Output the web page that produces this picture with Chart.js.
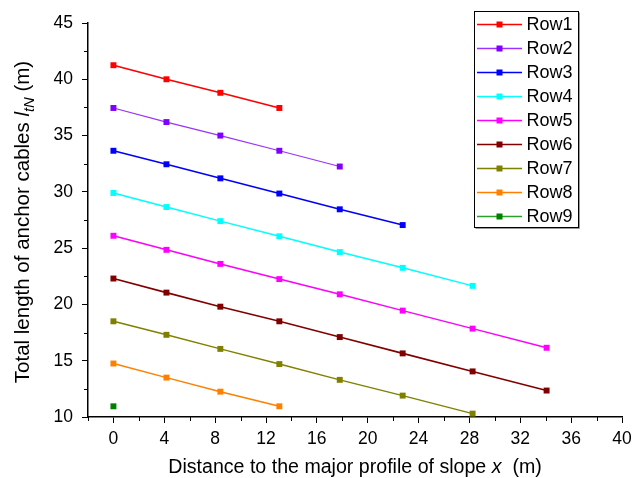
<!DOCTYPE html>
<html><head><meta charset="utf-8">
<script src="https://cdn.jsdelivr.net/npm/chart.js@4/dist/chart.umd.min.js"></script>
<style>html,body{margin:0;padding:0;background:#fff}#wrap{width:644px;height:478px;position:relative}</style>
</head><body><div id="wrap"><canvas id="c" width="644" height="478"></canvas></div>
<script>
// ---- data ----
const xPositions = [0, 4.17, 8.41, 13.05, 17.8, 22.75, 28.25, 34.07];
const rowLabels = ['Row1','Row2','Row3','Row4','Row5','Row6','Row7','Row8','Row9'];
const row1 = [41.25, 40.0, 38.8, 37.45];
const row2 = [37.45, 36.2, 35.0, 33.65, 32.25];
const row3 = [33.65, 32.45, 31.2, 29.85, 28.45, 27.05];
const row4 = [29.9, 28.65, 27.4, 26.05, 24.65, 23.25, 21.65];
const row5 = [26.1, 24.85, 23.6, 22.25, 20.9, 19.45, 17.85, 16.15];
const row6 = [22.3, 21.05, 19.8, 18.5, 17.1, 15.65, 14.05, 12.35];
const row7 = [18.5, 17.3, 16.05, 14.7, 13.3, 11.9, 10.3];
const row8 = [14.75, 13.5, 12.25, 10.95];
const row9 = [10.95];
const rows = [row1, row2, row3, row4, row5, row6, row7, row8, row9];
const xTickValues = [0, 4, 8, 12, 16, 20, 24, 28, 32, 36, 40];
const xMinorTickValues = [-2, 2, 6, 10, 14, 18, 22, 26, 30, 34, 38];
const yTickValues = [10, 15, 20, 25, 30, 35, 40, 45];
const yMinorTickValues = [12.5, 17.5, 22.5, 27.5, 32.5, 37.5, 42.5];

// ---- styles ----
const markerColors = ['#ff0000','#8000ff','#0000ff','#00ffff','#ff00ff','#800000','#808000','#ff8000','#008000'];
const lineColors   = ['#ff0000','#9933ff','#0000ff','#00ffff','#ff00ff','#800000','#808000','#ff8000','#2ca02c'];
const lineWidths   = [1.6, 1.2, 1.6, 1.5, 1.5, 1.6, 1.5, 1.5, 1.5];
const FONT = 'Arial, "Liberation Sans", sans-serif';

const datasets = rows.map((vals, i) => ({
  label: rowLabels[i],
  data: vals.map((v, j) => ({x: xPositions[j], y: v})),
  borderColor: lineColors[i],
  backgroundColor: markerColors[i],
  pointBackgroundColor: markerColors[i],
  pointBorderWidth: 0,
  pointStyle: 'rect',
  pointRadius: 4.2,
  borderWidth: lineWidths[i],
  tension: 0,
  clip: false
}));

function drawRuns(ctx, runs, cx, cy, size, rot) {
  ctx.save();
  ctx.translate(cx, cy);
  if (rot) ctx.rotate(rot);
  ctx.fillStyle = '#000';
  ctx.textBaseline = 'middle';
  ctx.textAlign = 'left';
  const fontOf = r => (r.italic ? 'italic ' : '') + (r.sub ? size * 0.72 : size) + 'px ' + FONT;
  let total = 0;
  runs.forEach(r => { ctx.font = fontOf(r); r.w = ctx.measureText(r.text).width; total += r.w; });
  let x = -total / 2;
  runs.forEach(r => {
    ctx.font = fontOf(r);
    ctx.fillText(r.text, x, r.sub ? size * 0.32 : 0);
    x += r.w;
  });
  ctx.restore();
}

const decor = {
  id: 'decor',
  afterDraw(chart) {
    const ctx = chart.ctx;
    const xs = chart.scales.x, ys = chart.scales.y;
    const a = chart.chartArea;
    ctx.save();
    ctx.strokeStyle = '#000';
    ctx.lineWidth = 1;
    xMinorTickValues.forEach(v => {
      const p = Math.round(xs.getPixelForValue(v)) + 0.5;
      ctx.beginPath(); ctx.moveTo(p, a.bottom); ctx.lineTo(p, a.bottom + 4); ctx.stroke();
    });
    yMinorTickValues.forEach(v => {
      const p = Math.round(ys.getPixelForValue(v)) + 0.5;
      ctx.beginPath(); ctx.moveTo(a.left, p); ctx.lineTo(a.left - 4, p); ctx.stroke();
    });
    ctx.restore();

    // axis titles
    drawRuns(ctx, [
      {text: 'Distance to the major profile of slope '},
      {text: 'x', italic: true},
      {text: '  (m)'}
    ], 355, 468, 19.6, 0);
    drawRuns(ctx, [
      {text: 'Total length of anchor cables '},
      {text: 'l', italic: true},
      {text: 'tN', italic: true, sub: true},
      {text: ' (m)'}
    ], 23, 222, 20.5, -Math.PI / 2);

    // legend
    const bx = 474.5, by = 11.5, bw = 104, bh = 216;
    ctx.save();
    ctx.strokeStyle = '#999';
    ctx.lineWidth = 1;
    ctx.beginPath(); ctx.moveTo(bx + bw + 1, by + 1); ctx.lineTo(bx + bw + 1, by + bh + 1); ctx.lineTo(bx + 1, by + bh + 1); ctx.stroke();
    ctx.strokeStyle = '#000';
    ctx.strokeRect(bx, by, bw, bh);
    chart.data.datasets.forEach((ds, i) => {
      const y = 24.5 + i * 24;
      ctx.strokeStyle = ds.borderColor;
      ctx.lineWidth = 1.5;
      ctx.beginPath(); ctx.moveTo(477, y); ctx.lineTo(522, y); ctx.stroke();
      ctx.fillStyle = ds.pointBackgroundColor;
      ctx.fillRect(496.5, y - 3, 6, 6);
      ctx.fillStyle = '#000';
      ctx.font = '18px ' + FONT;
      ctx.textBaseline = 'middle';
      ctx.textAlign = 'left';
      ctx.fillText(ds.label, 526.5, y + 1);
    });
    ctx.restore();
  }
};

new Chart(document.getElementById('c'), {
  type: 'line',
  data: { datasets },
  options: {
    responsive: false,
    animation: false,
    devicePixelRatio: 1,
    layout: { padding: { left: 0, top: 23, right: 22, bottom: 0 } },
    plugins: { legend: { display: false }, tooltip: { enabled: false } },
    scales: {
      x: {
        type: 'linear', min: -2, max: 40, position: 'bottom',
        afterBuildTicks: s => { s.ticks = xTickValues.map(v => ({value: v})); },
        afterFit: s => { s.height = 61; },
        grid: { display: true, drawOnChartArea: false, drawTicks: true, tickLength: 6, color: '#000', tickColor: '#000', lineWidth: 1 },
        border: { display: true, color: '#000', width: 1.5 },
        ticks: { color: '#000', font: { family: FONT, size: 17.5 }, padding: 6, maxRotation: 0, autoSkip: false }
      },
      y: {
        type: 'linear', min: 10, max: 45, position: 'left',
        afterBuildTicks: s => { s.ticks = yTickValues.map(v => ({value: v})); },
        afterFit: s => { s.width = 88; },
        grid: { display: true, drawOnChartArea: false, drawTicks: true, tickLength: 6, color: '#000', tickColor: '#000', lineWidth: 1 },
        border: { display: true, color: '#000', width: 1.5 },
        ticks: { color: '#000', font: { family: FONT, size: 17.5 }, padding: 9, autoSkip: false }
      }
    }
  },
  plugins: [decor]
});
</script></body></html>
